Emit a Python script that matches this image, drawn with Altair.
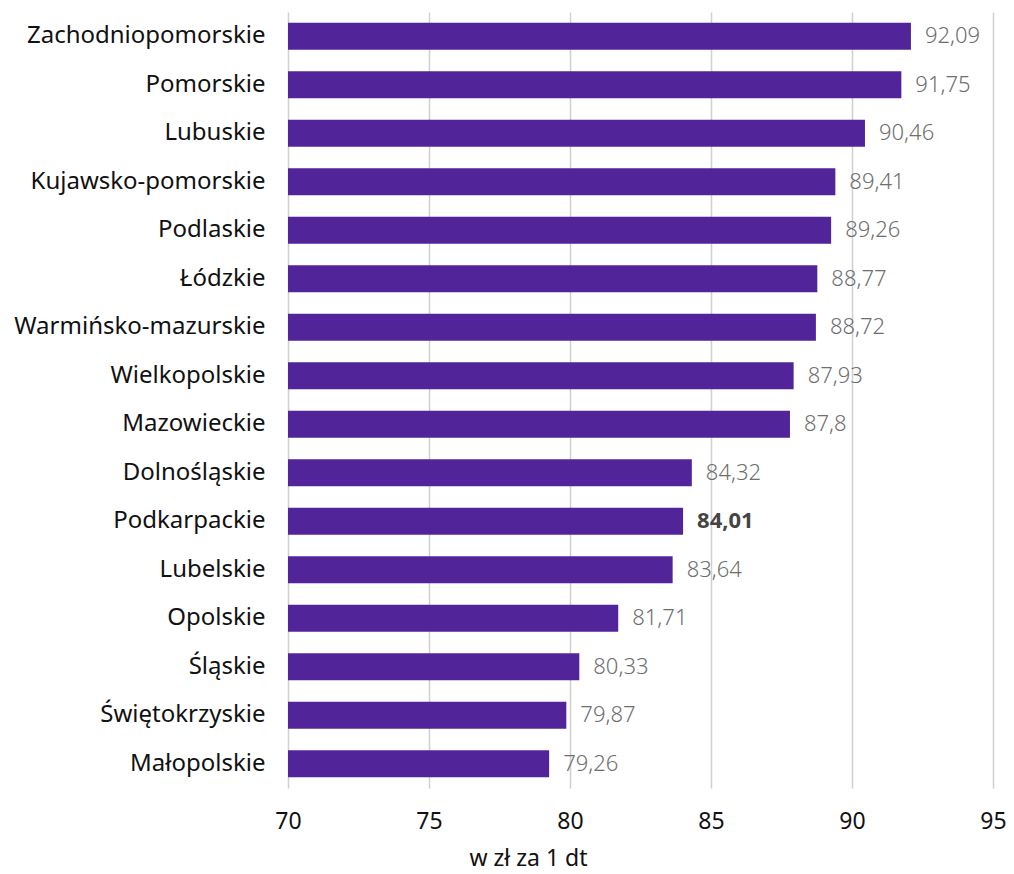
import altair as alt
import pandas as pd

regions = ["Zachodniopomorskie", "Pomorskie", "Lubuskie", "Kujawsko-pomorskie",
           "Podlaskie", "Łódzkie", "Warmińsko-mazurskie", "Wielkopolskie",
           "Mazowieckie", "Dolnośląskie", "Podkarpackie", "Lubelskie",
           "Opolskie", "Śląskie", "Świętokrzyskie", "Małopolskie"]
values = [92.09, 91.75, 90.46, 89.41, 89.26, 88.77, 88.72, 87.93,
          87.8, 84.32, 84.01, 83.64, 81.71, 80.33, 79.87, 79.26]
highlight = "Podkarpackie"

df = pd.DataFrame({
    "region": regions,
    "value": values,
    "label": [f"{v:g}".replace(".", ",") for v in values],
    "hl": [r == highlight for r in regions],
})

FONT = "Noto Sans"

base = alt.Chart(df).encode(
    y=alt.Y("region:N", sort=regions, title=None,
            scale=alt.Scale(paddingInner=0.44, paddingOuter=0.22),
            axis=alt.Axis(labelFont=FONT, labelFontSize=24, labelColor="#111",
                          labelPadding=23, ticks=False, domain=False, grid=False,
                          labelLimit=400)),
)

bars = base.mark_bar(color="#52249A").encode(
    x=alt.X("value:Q", title="w zł za 1 dt",
            scale=alt.Scale(domain=[70, 95], zero=False, nice=False),
            axis=alt.Axis(values=[70, 75, 80, 85, 90, 95], labelFont=FONT,
                          labelFontSize=23, labelColor="#111", labelPadding=22,
                          labelFlush=False,
                          ticks=False, domain=False, grid=True,
                          gridColor="#d0d0d0", gridWidth=1.5,
                          titleFont=FONT, titleFontSize=23, titleFontWeight="normal",
                          titleColor="#111", titleX=240, titleY=77,
                          titleBaseline="alphabetic")),
    x2=alt.datum(70),
)

text_normal = base.transform_filter(alt.datum.hl == False).mark_text(
    align="left", baseline="middle", dx=14, font=FONT, fontSize=22,
    fontWeight=300, color="#6e6e6e"
).encode(x="value:Q", text="label:N")

text_hl = base.transform_filter(alt.datum.hl == True).mark_text(
    align="left", baseline="middle", dx=14, font=FONT, fontSize=22,
    fontWeight="bold", color="#444"
).encode(x="value:Q", text="label:N")

chart = alt.layer(bars, text_normal, text_hl).properties(
    width=705, height=776,
    autosize=alt.AutoSizeParams(type="none"),
    padding={"left": 280, "top": 4, "right": 13, "bottom": 86},
).configure_view(stroke=None)

chart.save("out.html", embed_options={"renderer": "svg", "actions": False})
